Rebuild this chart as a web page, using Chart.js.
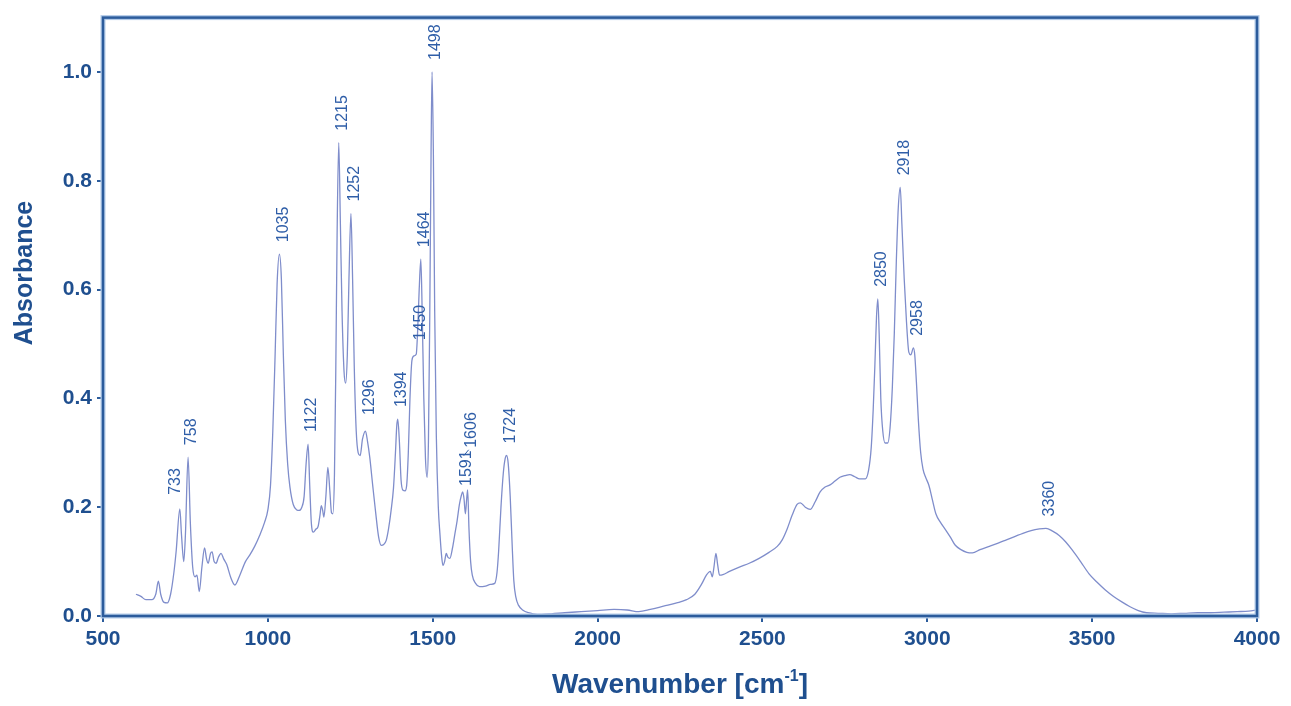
<!DOCTYPE html>
<html>
<head>
<meta charset="utf-8">
<title>IR spectrum</title>
<script src="https://cdn.jsdelivr.net/npm/chart.js@4.4.1/dist/chart.umd.min.js"></script>
<style>
    html, body { margin: 0; padding: 0; background: #ffffff; }
    #spectrum { display: block; }
</style>
</head>
<body>
<canvas id="spectrum" width="1291" height="706"></canvas>
<script>
// Spectrum data (wavenumber in cm-1, absorbance)
const wavenumbers = [
    600, 615, 630, 648, 660, 668, 675, 685, 695, 705, 715, 722, 733, 738, 745, 750, 758, 765, 772, 779,
    785, 792, 800, 808, 814, 819, 826, 831, 837, 843, 850, 858, 866, 875, 888, 900, 915, 932, 945, 960,
    975, 990, 1000, 1008, 1015, 1022, 1028, 1035, 1041, 1047, 1053, 1060, 1067, 1077, 1088, 1095, 1103, 1110, 1116, 1122,
    1127, 1132, 1138, 1146, 1152, 1158, 1162, 1166, 1170, 1176, 1182, 1188, 1193, 1197, 1202, 1206, 1210, 1215, 1220, 1225,
    1231, 1236, 1241, 1246, 1252, 1257, 1262, 1268, 1274, 1280, 1287, 1296, 1302, 1309, 1318, 1327, 1336, 1344, 1352, 1359,
    1366, 1374, 1381, 1387, 1391, 1394, 1399, 1404, 1410, 1416, 1421, 1426, 1431, 1437, 1443, 1450, 1454, 1459, 1464, 1468,
    1473, 1478, 1483, 1487, 1491, 1495, 1498, 1502, 1506, 1511, 1517, 1522, 1527, 1531, 1536, 1541, 1546, 1552, 1560, 1567,
    1574, 1581, 1587, 1591, 1595, 1599, 1603, 1606, 1610, 1615, 1620, 1630, 1642, 1660, 1675, 1688, 1695, 1700, 1707, 1714,
    1720, 1724, 1729, 1735, 1741, 1746, 1752, 1760, 1775, 1790, 1805, 1830, 1860, 1900, 1950, 2000, 2050, 2090, 2125, 2160,
    2200, 2240, 2270, 2295, 2315, 2330, 2342, 2348, 2353, 2359, 2364, 2370, 2380, 2400, 2430, 2460, 2490, 2520, 2545, 2560,
    2575, 2590, 2605, 2615, 2630, 2645, 2660, 2675, 2690, 2705, 2720, 2735, 2750, 2765, 2780, 2795, 2812, 2822, 2830, 2836,
    2841, 2846, 2850, 2854, 2859, 2865, 2872, 2880, 2887, 2894, 2900, 2906, 2912, 2918, 2923, 2930, 2937, 2944, 2950, 2958,
    2962, 2967, 2973, 2980, 2987, 2995, 3005, 3015, 3026, 3040, 3056, 3070, 3085, 3102, 3120, 3137, 3160, 3188, 3215, 3240,
    3265, 3290, 3315, 3340, 3360, 3380, 3400, 3420, 3440, 3465, 3490, 3515, 3540, 3565, 3590, 3615, 3640, 3665, 3700, 3740,
    3780, 3820, 3860, 3900, 3940, 3975, 4000
];

const absorbance = [
    0.040, 0.036, 0.030, 0.030, 0.040, 0.064, 0.040, 0.025, 0.024, 0.040, 0.080, 0.120, 0.197, 0.150, 0.100, 0.150, 0.292, 0.170, 0.090, 0.072,
    0.075, 0.045, 0.090, 0.125, 0.105, 0.097, 0.115, 0.118, 0.100, 0.097, 0.108, 0.115, 0.105, 0.095, 0.070, 0.057, 0.075, 0.100, 0.112, 0.128,
    0.148, 0.172, 0.195, 0.240, 0.340, 0.480, 0.610, 0.665, 0.620, 0.480, 0.360, 0.280, 0.237, 0.205, 0.195, 0.194, 0.200, 0.220, 0.280, 0.316,
    0.240, 0.170, 0.154, 0.160, 0.164, 0.185, 0.203, 0.195, 0.182, 0.220, 0.273, 0.230, 0.190, 0.188, 0.260, 0.450, 0.700, 0.870, 0.720, 0.560,
    0.450, 0.428, 0.480, 0.620, 0.740, 0.620, 0.460, 0.340, 0.300, 0.295, 0.325, 0.340, 0.322, 0.292, 0.240, 0.190, 0.145, 0.130, 0.132, 0.139,
    0.160, 0.195, 0.235, 0.300, 0.350, 0.362, 0.320, 0.250, 0.231, 0.230, 0.240, 0.300, 0.400, 0.470, 0.478, 0.481, 0.520, 0.600, 0.656, 0.560,
    0.400, 0.290, 0.255, 0.320, 0.550, 0.850, 1.000, 0.850, 0.560, 0.330, 0.200, 0.150, 0.110, 0.093, 0.100, 0.115, 0.108, 0.106, 0.125, 0.150,
    0.175, 0.205, 0.222, 0.228, 0.215, 0.188, 0.215, 0.232, 0.160, 0.100, 0.075, 0.060, 0.054, 0.055, 0.058, 0.060, 0.080, 0.120, 0.200, 0.262,
    0.290, 0.295, 0.280, 0.220, 0.130, 0.065, 0.035, 0.020, 0.010, 0.006, 0.004, 0.003, 0.004, 0.006, 0.008, 0.010, 0.012, 0.011, 0.008, 0.012,
    0.018, 0.024, 0.030, 0.040, 0.058, 0.075, 0.082, 0.072, 0.090, 0.115, 0.095, 0.075, 0.076, 0.082, 0.090, 0.097, 0.106, 0.117, 0.128, 0.140,
    0.160, 0.185, 0.205, 0.208, 0.200, 0.196, 0.210, 0.228, 0.237, 0.241, 0.248, 0.255, 0.258, 0.260, 0.256, 0.252, 0.252, 0.268, 0.310, 0.380,
    0.460, 0.550, 0.583, 0.520, 0.400, 0.340, 0.318, 0.318, 0.345, 0.420, 0.520, 0.650, 0.750, 0.788, 0.720, 0.620, 0.540, 0.485, 0.480, 0.493,
    0.480, 0.430, 0.360, 0.300, 0.270, 0.255, 0.240, 0.215, 0.188, 0.172, 0.158, 0.145, 0.130, 0.122, 0.117, 0.116, 0.122, 0.128, 0.134, 0.140,
    0.146, 0.152, 0.157, 0.160, 0.161, 0.156, 0.148, 0.136, 0.121, 0.100, 0.078, 0.062, 0.048, 0.036, 0.026, 0.017, 0.010, 0.006, 0.005, 0.004,
    0.005, 0.006, 0.006, 0.007, 0.008, 0.009, 0.011
];

// Annotated band positions
const peakLabels = [733, 758, 1035, 1122, 1215, 1252, 1296, 1394, 1450, 1464, 1498, 1591, 1606, 1724, 2850, 2918, 2958, 3360];
// Extra lift (px) / sideways nudge (px) for labels that would collide with a neighbour
const labelLift = { 733: 2, 1296: 4, 1450: 2, 1591: -6, 1606: 30 };
const labelNudge = { 733: -8 };

const xTicks = [500, 1000, 1500, 2000, 2500, 3000, 3500, 4000];
const yTicks = [0, 0.2, 0.4, 0.6, 0.8, 1.0];

const NAVY = '#1f4f8f';
const FRAME = '#2c5c9c';

// Frame around the plot area, drawn on top of the trace
const framePlugin = {
    id: 'frame',
    afterDraw(chart) {
        const { ctx, chartArea: a } = chart;
        ctx.save();
        ctx.strokeStyle = '#b3cbe8';
        ctx.lineWidth = 5;
        ctx.strokeRect(a.left, a.top, a.right - a.left, a.bottom - a.top);
        ctx.strokeStyle = FRAME;
        ctx.lineWidth = 2.5;
        ctx.strokeRect(a.left, a.top, a.right - a.left, a.bottom - a.top);
        ctx.restore();
    }
};

// Vertical band labels above each peak
const peakLabelPlugin = {
    id: 'peakLabels',
    afterDatasetsDraw(chart) {
        const { ctx, scales: { x, y } } = chart;
        ctx.save();
        ctx.font = '16px "Liberation Sans", Arial, sans-serif';
        ctx.fillStyle = '#2f5ea8';
        ctx.textAlign = 'left';
        ctx.textBaseline = 'middle';
        peakLabels.forEach(wn => {
            const idx = wavenumbers.indexOf(wn);
            const px = x.getPixelForValue(wn) + 4 + (labelNudge[wn] || 0);
            const lift = labelLift[wn] || 0;
            const py = y.getPixelForValue(absorbance[idx]) - 12 - lift;
            if (wn === 1606) {
                // short leader from the label down to the band
                ctx.strokeStyle = '#2f5ea8';
                ctx.lineWidth = 1;
                ctx.beginPath();
                ctx.moveTo(px - 3, py + 2);
                ctx.lineTo(px - 8, py + 8);
                ctx.stroke();
            }
            ctx.save();
            ctx.translate(px, py);
            ctx.rotate(-Math.PI / 2);
            ctx.fillText(String(wn), 0, 0);
            ctx.restore();
        });
        ctx.restore();
    }
};

// Axis titles (the x title needs a superscript)
const axisTitlePlugin = {
    id: 'axisTitles',
    afterDraw(chart) {
        const { ctx, chartArea: a } = chart;
        ctx.save();
        ctx.fillStyle = NAVY;

        // y title
        ctx.font = 'bold 25px "Liberation Sans", Arial, sans-serif';
        ctx.textAlign = 'center';
        ctx.textBaseline = 'middle';
        ctx.save();
        ctx.translate(25, 273);
        ctx.rotate(-Math.PI / 2);
        ctx.fillText('Absorbance', 0, 0);
        ctx.restore();

        // x title
        const mainFont = 'bold 28px "Liberation Sans", Arial, sans-serif';
        const supFont = 'bold 16px "Liberation Sans", Arial, sans-serif';
        const p1 = 'Wavenumber [cm', sup = '-1', p2 = ']';
        ctx.font = mainFont;
        const w1 = ctx.measureText(p1).width, w3 = ctx.measureText(p2).width;
        ctx.font = supFont;
        const w2 = ctx.measureText(sup).width;
        let tx = (a.left + a.right) / 2 - (w1 + w2 + w3) / 2;
        const base = 693;
        ctx.textAlign = 'left';
        ctx.textBaseline = 'alphabetic';
        ctx.font = mainFont;
        ctx.fillText(p1, tx, base);
        tx += w1;
        ctx.font = supFont;
        ctx.fillText(sup, tx, base - 12);
        tx += w2;
        ctx.font = mainFont;
        ctx.fillText(p2, tx, base);
        ctx.restore();
    }
};

const ctx = document.getElementById('spectrum').getContext('2d');

new Chart(ctx, {
    type: 'line',
    data: {
        datasets: [{
            label: 'Absorbance',
            data: wavenumbers.map((wn, i) => ({ x: wn, y: absorbance[i] })),
            borderColor: '#7f8dcb',
            borderWidth: 1.3,
            pointRadius: 0,
            fill: false,
            cubicInterpolationMode: 'monotone'
        }]
    },
    options: {
        responsive: false,
        devicePixelRatio: 1,
        animation: false,
        layout: { padding: { top: 14, right: 34, left: 0, bottom: 0 } },
        plugins: {
            legend: { display: false },
            tooltip: { enabled: false }
        },
        scales: {
            x: {
                type: 'linear',
                min: 500,
                max: 4000,
                afterFit: scale => { scale.height = 90; },
                afterBuildTicks: scale => { scale.ticks = xTicks.map(v => ({ value: v })); },
                grid: {
                    drawOnChartArea: false,
                    drawTicks: true,
                    tickLength: 6,
                    tickColor: FRAME,
                    lineWidth: 2
                },
                border: { display: false },
                ticks: {
                    color: NAVY,
                    padding: 5,
                    maxRotation: 0,
                    font: { family: '"Liberation Sans", Arial, sans-serif', size: 21, weight: 'bold' },
                    callback: v => String(v)
                }
            },
            y: {
                min: 0,
                max: 1.1,
                afterFit: scale => { scale.width = 103; },
                afterBuildTicks: scale => { scale.ticks = yTicks.map(v => ({ value: v })); },
                grid: {
                    drawOnChartArea: false,
                    drawTicks: true,
                    tickLength: 6,
                    tickColor: FRAME,
                    lineWidth: 2
                },
                border: { display: false },
                ticks: {
                    color: NAVY,
                    padding: 5,
                    font: { family: '"Liberation Sans", Arial, sans-serif', size: 21, weight: 'bold' },
                    callback: v => v.toFixed(1)
                }
            }
        }
    },
    plugins: [peakLabelPlugin, framePlugin, axisTitlePlugin]
});
</script>
</body>
</html>
